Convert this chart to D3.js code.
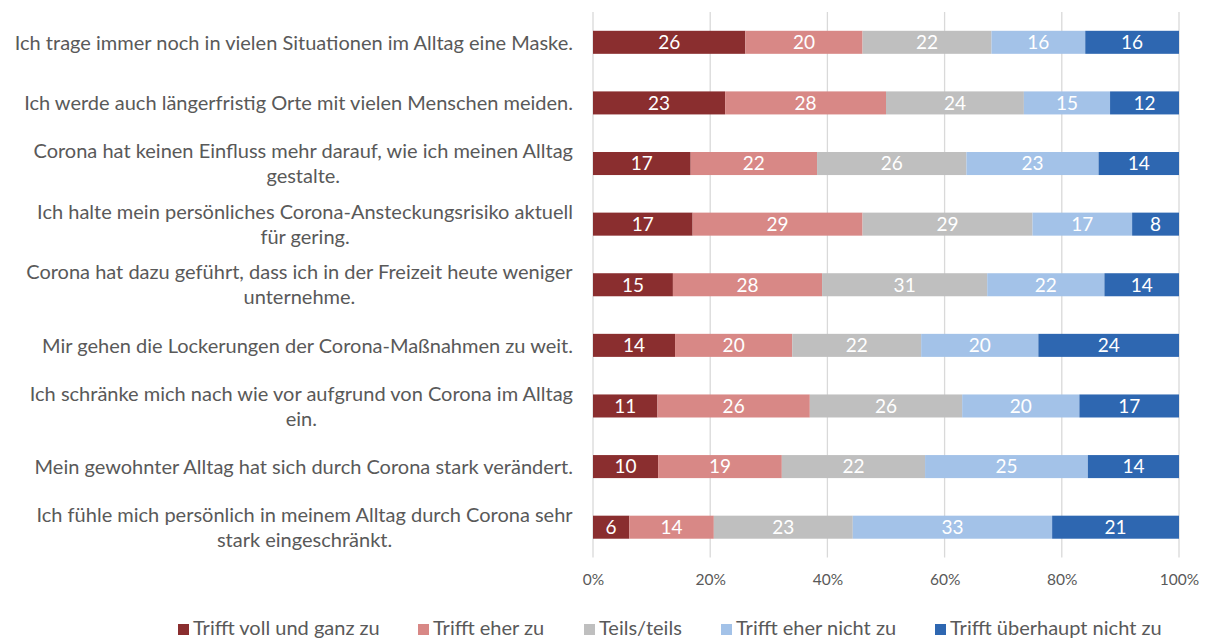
<!DOCTYPE html>
<html>
<head>
<meta charset="utf-8">
<script src="https://cdn.jsdelivr.net/npm/d3@7"></script>
<style>
  body { margin: 0; background: #fff; }
  text { font-family: Lato, "Open Sans", sans-serif; }
</style>
</head>
<body>
<div id="chart"></div>
<script>
// categories, top to bottom ("\n" = line break as in the original)
var categories = [
  "Ich trage immer noch in vielen Situationen im Alltag eine Maske.",
  "Ich werde auch längerfristig Orte mit vielen Menschen meiden.",
  "Corona hat keinen Einfluss mehr darauf, wie ich meinen Alltag\ngestalte.",
  "Ich halte mein persönliches Corona-Ansteckungsrisiko aktuell\nfür gering.",
  "Corona hat dazu geführt, dass ich in der Freizeit heute weniger\nunternehme.",
  "Mir gehen die Lockerungen der Corona-Maßnahmen zu weit.",
  "Ich schränke mich nach wie vor aufgrund von Corona im Alltag\nein.",
  "Mein gewohnter Alltag hat sich durch Corona stark verändert.",
  "Ich fühle mich persönlich in meinem Alltag durch Corona sehr\nstark eingeschränkt."
];

var seriesNames = ["Trifft voll und ganz zu", "Trifft eher zu", "Teils/teils",
                   "Trifft eher nicht zu", "Trifft überhaupt nicht zu"];
var seriesColors = ["#8a2e2f", "#d88886", "#bfbfbf", "#a3c2e8", "#2e67b1"];

// values per series, same order as categories
var vollGanz   = [26, 23, 17, 17, 15, 14, 11, 10, 6];
var eher       = [20, 28, 22, 29, 28, 20, 26, 19, 14];
var teils      = [22, 24, 26, 29, 31, 22, 26, 22, 23];
var eherNicht  = [16, 15, 23, 17, 22, 20, 20, 25, 33];
var garNicht   = [16, 12, 14, 8, 14, 24, 17, 14, 21];

var xTicks = [0, 0.2, 0.4, 0.6, 0.8, 1];

var W = 1208, H = 640;
var plotLeft = 593, plotRight = 1179, plotTop = 12, plotBottom = 557.5;

var svg = d3.select("#chart")
  .append("svg")
  .attr("width", W)
  .attr("height", H);

// build rows for the stack
var seriesArrays = [vollGanz, eher, teils, eherNicht, garNicht];
var rows = categories.map(function(c, i) {
  var r = {cat: c};
  seriesNames.forEach(function(s, j) { r[s] = seriesArrays[j][i]; });
  return r;
});

var stack = d3.stack()
  .keys(seriesNames)
  .offset(d3.stackOffsetExpand);
var layers = stack(rows);

var x = d3.scaleLinear()
  .domain([0, 1])
  .range([plotLeft, plotRight]);

var y = d3.scaleBand()
  .domain(categories)
  .range([plotTop, plotBottom])
  .paddingInner(0.62)
  .paddingOuter(0.31);

// gridlines
svg.append("g")
  .selectAll("line")
  .data(xTicks)
  .enter().append("line")
  .attr("x1", function(d) { return x(d); })
  .attr("x2", function(d) { return x(d); })
  .attr("y1", plotTop)
  .attr("y2", plotBottom)
  .attr("stroke", "#d9d9d9")
  .attr("stroke-width", 1.3);

// x axis labels
var xAxis = svg.append("g")
  .attr("transform", "translate(0," + plotBottom + ")")
  .call(d3.axisBottom(x).tickValues(xTicks).tickFormat(d3.format(".0%")).tickSize(0).tickPadding(16));
xAxis.select(".domain").remove();
xAxis.selectAll("text")
  .attr("fill", "#595959")
  .style("font-family", "Lato, sans-serif")
  .style("font-size", "15.5px");

// bars
var layerG = svg.append("g")
  .selectAll("g")
  .data(layers)
  .enter().append("g")
  .attr("fill", function(d, i) { return seriesColors[i]; });

layerG.selectAll("rect")
  .data(function(d) { return d; })
  .enter().append("rect")
  .attr("x", function(d) { return x(d[0]); })
  .attr("width", function(d) { return x(d[1]) - x(d[0]); })
  .attr("y", function(d) { return y(d.data.cat); })
  .attr("height", y.bandwidth());

// data labels
layerG.selectAll("text")
  .data(function(d) { return d.map(function(p) { p.key = d.key; return p; }); })
  .enter().append("text")
  .attr("x", function(d) { return (x(d[0]) + x(d[1])) / 2; })
  .attr("y", function(d) { return y(d.data.cat) + y.bandwidth() / 2; })
  .attr("dy", "0.36em")
  .attr("text-anchor", "middle")
  .attr("fill", "#fff")
  .style("font-size", "19px")
  .text(function(d) { return d.data[d.key]; });

// category labels, lines centred, block right aligned
var lineH = 25;
var labels = svg.append("g")
  .selectAll("text")
  .data(categories)
  .enter().append("text")
  .attr("text-anchor", "middle")
  .attr("fill", "#595959")
  .style("font-size", "20px");

labels.each(function(c) {
  var t = d3.select(this);
  var lines = c.split("\n");
  var cy = y(c) + y.bandwidth() / 2;
  lines.forEach(function(l, k) {
    t.append("tspan")
      .attr("x", 0)
      .attr("y", cy + (k - (lines.length - 1) / 2) * lineH)
      .attr("dy", "0.36em")
      .text(l);
  });
  var w = this.getBBox().width;
  t.selectAll("tspan").attr("x", plotLeft - 20 - w / 2);
});

// legend
var legendX = [178, 418, 584, 721, 935];
var legend = svg.append("g")
  .selectAll("g")
  .data(seriesNames)
  .enter().append("g")
  .attr("transform", function(d, i) { return "translate(" + legendX[i] + ",628)"; });

legend.append("rect")
  .attr("x", 0)
  .attr("y", -4)
  .attr("width", 11)
  .attr("height", 11)
  .attr("fill", function(d, i) { return seriesColors[i]; });

legend.append("text")
  .attr("x", 15)
  .attr("dy", "0.36em")
  .attr("fill", "#595959")
  .style("font-size", "20px")
  .text(function(d) { return d; });
</script>
</body>
</html>
